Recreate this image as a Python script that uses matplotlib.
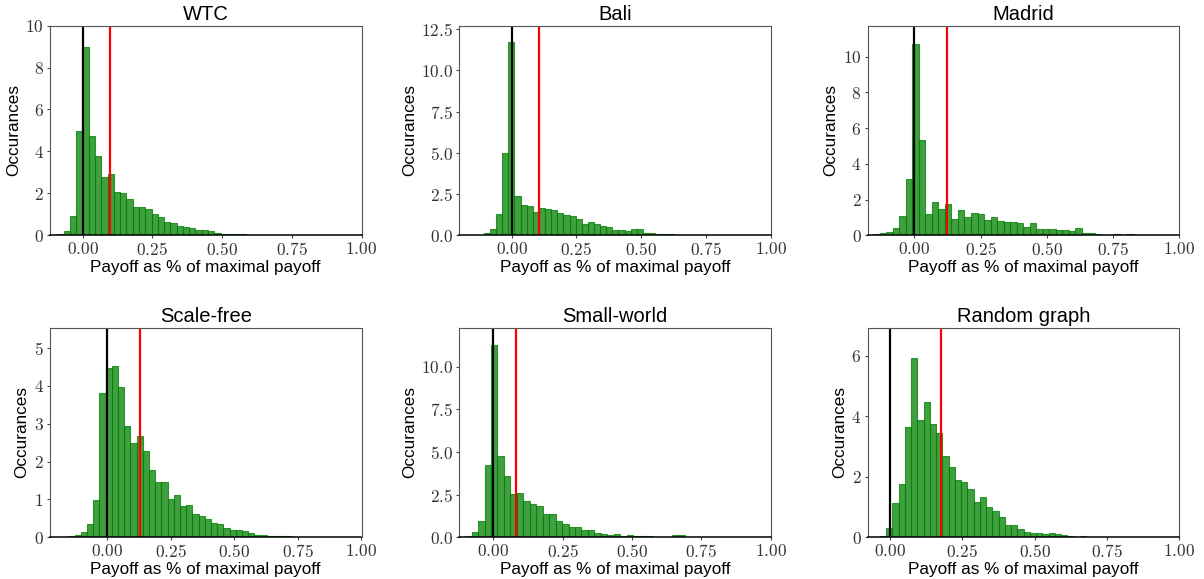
import numpy as np
import matplotlib
matplotlib.use("Agg")
import matplotlib.pyplot as plt

plt.rcParams['font.family'] = ['Liberation Sans', 'DejaVu Sans']
plt.rcParams['mathtext.fontset'] = 'cm'

titles = ["WTC", "Bali", "Madrid", "Scale-free", "Small-world", "Random graph"]

# histogram data: first bin left edge, bin width, bar heights
wtc_start, wtc_width = -0.0905, 0.0225
wtc_heights = [0.06, 0.2, 0.9, 4.97, 9.0, 4.75, 3.8, 2.8, 2.92, 2.05, 2.02, 1.72, 1.34,
               1.34, 1.26, 1.02, 0.86, 0.64, 0.57, 0.45, 0.38, 0.33, 0.25, 0.25, 0.19,
               0.11, 0.08, 0.06, 0.05, 0.05]
wtc_mean = 0.098

bali_start, bali_width = -0.107, 0.0236
bali_heights = [0.12, 0.36, 1.28, 4.98, 11.75, 2.37, 1.84, 1.76, 1.40, 1.66, 1.58, 1.54,
                1.36, 1.22, 1.15, 0.97, 0.67, 0.79, 0.67, 0.57, 0.49, 0.34, 0.30, 0.24,
                0.36, 0.36, 0.12, 0.12, 0.08, 0.08, 0.08]
bali_mean = 0.105

madrid_start, madrid_width = -0.155, 0.0246
madrid_heights = [0.05, 0.1, 0.17, 0.4, 1.08, 3.15, 10.7, 5.32, 1.2, 1.85, 1.48, 1.75,
                  0.93, 1.42, 1.0, 1.24, 1.18, 0.86, 1.0, 0.8, 0.76, 0.76, 0.67, 0.48,
                  0.67, 0.33, 0.36, 0.36, 0.3, 0.3, 0.22, 0.4, 0.1, 0.1, 0.08, 0.0, 0.0,
                  0.05, 0.0, 0.05]
madrid_mean = 0.125

sf_start, sf_width = -0.153, 0.0244
sf_heights = [0.03, 0.05, 0.14, 0.35, 0.99, 3.8, 4.48, 4.53, 3.96, 2.95, 2.48, 2.68, 2.27,
              1.78, 1.47, 1.47, 1.02, 1.12, 0.82, 0.84, 0.62, 0.57, 0.47, 0.38, 0.35,
              0.25, 0.2, 0.19, 0.17, 0.12, 0.07, 0.07, 0.04, 0.03, 0.03, 0.02, 0.01]
sf_mean = 0.128

sw_start, sw_width = -0.102, 0.0233
sw_heights = [0.05, 0.33, 0.96, 4.22, 11.25, 4.75, 3.6, 2.56, 2.6, 2.1, 1.95, 1.85, 1.36,
              1.36, 0.95, 0.8, 0.62, 0.62, 0.43, 0.43, 0.26, 0.2, 0.12, 0.2, 0.08, 0.12,
              0.08, 0.08, 0.08, 0.0, 0.0, 0.0, 0.12, 0.12]
sw_mean = 0.082

rg_start, rg_width = -0.035, 0.0216
rg_heights = [0.03, 0.3, 1.13, 1.75, 3.65, 5.92, 3.88, 4.48, 3.75, 3.45, 2.7, 2.33, 1.9,
              1.83, 1.58, 1.18, 1.33, 1.0, 0.87, 0.68, 0.4, 0.4, 0.26, 0.18, 0.15, 0.15,
              0.12, 0.14, 0.12, 0.06, 0.03, 0.0, 0.03]
rg_mean = 0.178

xticks = [0.0, 0.25, 0.5, 0.75, 1.0]
yticks_list = [[0, 2, 4, 6, 8, 10],
               [0.0, 2.5, 5.0, 7.5, 10.0, 12.5],
               [0, 2, 4, 6, 8, 10],
               [0, 1, 2, 3, 4, 5],
               [0.0, 2.5, 5.0, 7.5, 10.0],
               [0, 2, 4, 6]]
ytick_fmt = ["{:.0f}", "{:.1f}", "{:.0f}", "{:.0f}", "{:.1f}", "{:.0f}"]
xlims_left = [-0.117, -0.202, -0.176, -0.225, -0.123, -0.077]
ylims_top = [10.0, 12.72, 11.74, 5.54, 12.28, 6.93]

panels = [(wtc_start, wtc_width, wtc_heights, wtc_mean),
          (bali_start, bali_width, bali_heights, bali_mean),
          (madrid_start, madrid_width, madrid_heights, madrid_mean),
          (sf_start, sf_width, sf_heights, sf_mean),
          (sw_start, sw_width, sw_heights, sw_mean),
          (rg_start, rg_width, rg_heights, rg_mean)]

W, H = 1204, 579
fig = plt.figure(figsize=(W / 100, H / 100), dpi=100)
col_left = [50, 459.3, 867.7]
row_top = [25.7, 327.7]
aw, ah = 311.5, 209.5

for i, (start, width, heights, mean) in enumerate(panels):
    r, c = divmod(i, 3)
    ax = fig.add_axes([col_left[c] / W, 1 - (row_top[r] + ah) / H, aw / W, ah / H])
    heights = np.array(heights)
    edges = start + width * np.arange(len(heights) + 1)
    centers = (edges[:-1] + edges[1:]) / 2
    ax.hist(centers, bins=edges, weights=heights, color='green', alpha=0.75,
            edgecolor='green', linewidth=0.8)
    ax.axvline(0, color='black', lw=1.6)
    ax.axvline(mean, color='red', lw=1.6)
    ax.set_xlim(xlims_left[i], 1.0)
    ax.set_ylim(0, ylims_top[i])
    ax.set_xticks(xticks)
    ax.set_xticklabels([r'${:.2f}$'.format(t) for t in xticks], fontsize=12.5)
    yt = yticks_list[i]
    ax.set_yticks(yt)
    ax.set_yticklabels([r'$' + ytick_fmt[i].format(t) + r'$' for t in yt], fontsize=12.5)
    ax.tick_params(length=2, width=0.8, pad=2.5, colors='#444444', labelcolor='#333333')
    for side in ('left', 'top', 'right'):
        ax.spines[side].set_color('#555555')
    ax.spines['bottom'].set_color('black')
    ax.spines['bottom'].set_linewidth(1.1)
    ax.set_title(titles[i], fontsize=14.5, pad=4)
    ax.set_xlabel("Payoff as % of maximal payoff", fontsize=12.3, labelpad=1)
    ax.set_ylabel("Occurances", fontsize=12.3, labelpad=3)

fig.savefig("out.png", dpi=100)
